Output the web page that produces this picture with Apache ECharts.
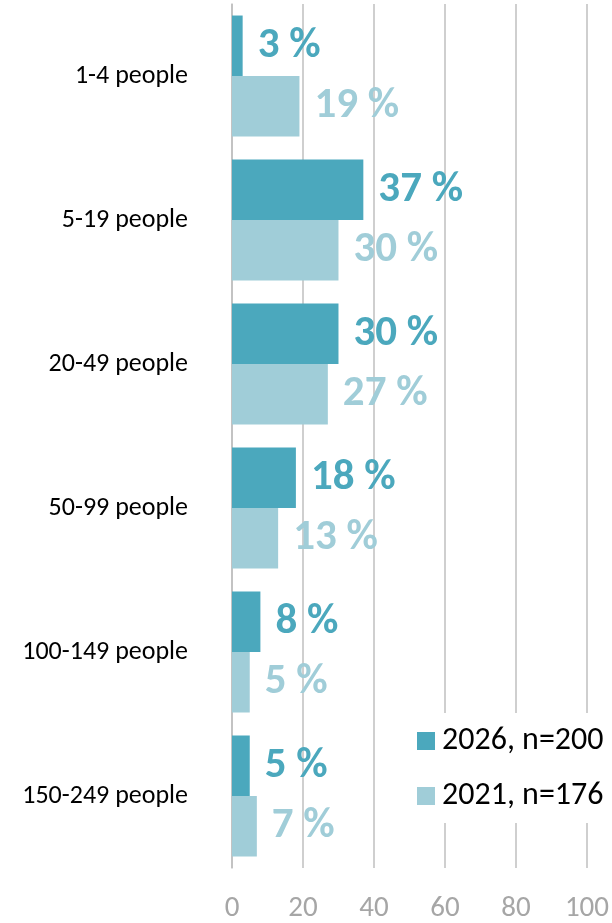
<!DOCTYPE html>
<html>
<head>
<meta charset="utf-8">
<script src="https://cdn.jsdelivr.net/npm/echarts@6/dist/echarts.min.js"></script>
<style>
  html, body { margin: 0; padding: 0; background: #ffffff; }
  #chart { width: 612px; height: 923px; }
</style>
</head>
<body>
<div id="chart"></div>
<script>
// Company size groups, top to bottom
const categories = ['1-4 people', '5-19 people', '20-49 people', '50-99 people', '100-149 people', '150-249 people'];
// Share of respondents (%)
const values2026 = [3, 37, 30, 18, 8, 5];
const values2021 = [19, 30, 27, 13, 5, 7];
const seriesNames = ['2026, n=200', '2021, n=176'];
const axisTicks = [0, 20, 40, 60, 80, 100];

const DARK = '#4BA8BD';
const LIGHT = '#A0CDD8';
const FONT = 'Carlito, Lato, "Open Sans", sans-serif';

const chart = echarts.init(document.getElementById('chart'), null, { renderer: 'canvas' });

function barSeries(name, data, color) {
  return {
    name: name,
    type: 'bar',
    data: data,
    barGap: '0%',
    barCategoryGap: '16%',
    itemStyle: { color: color },
    label: {
      show: true,
      position: 'right',
      distance: 15,
      formatter: '{c} %',
      color: color,
      fontFamily: FONT,
      fontWeight: 'bold',
      fontSize: 43
    },
    emphasis: { disabled: true }
  };
}

chart.setOption({
  animation: false,
  grid: { left: 232, right: 22, top: 4, bottom: 55, containLabel: false },
  legend: {
    orient: 'vertical',
    left: 405,
    top: 713,
    itemWidth: 18,
    itemHeight: 18,
    itemGap: 23,
    padding: [12, 10, 11, 12],
    backgroundColor: '#ffffff',
    icon: 'rect',
    data: seriesNames,
    textStyle: { fontFamily: FONT, fontSize: 32, color: '#000000', padding: [0, 0, 0, 2] }
  },
  xAxis: {
    type: 'value',
    min: axisTicks[0],
    max: axisTicks[axisTicks.length - 1],
    interval: 20,
    axisLine: { show: false },
    axisTick: { show: false },
    splitLine: { show: true, lineStyle: { color: '#BFBFBF', width: 1.5 } },
    axisLabel: {
      margin: 26,
      color: '#A6A6A6',
      fontFamily: FONT,
      fontSize: 29
    }
  },
  yAxis: {
    type: 'category',
    data: categories,
    inverse: true,
    axisLine: { show: true, lineStyle: { color: '#BFBFBF', width: 1.5 } },
    axisTick: { show: false },
    axisLabel: {
      margin: 44,
      color: '#000000',
      fontFamily: FONT,
      fontSize: 26,
      padding: [14, 0, 0, 0]
    }
  },
  series: [
    barSeries(seriesNames[0], values2026, DARK),
    barSeries(seriesNames[1], values2021, LIGHT)
  ]
});
</script>
</body>
</html>
